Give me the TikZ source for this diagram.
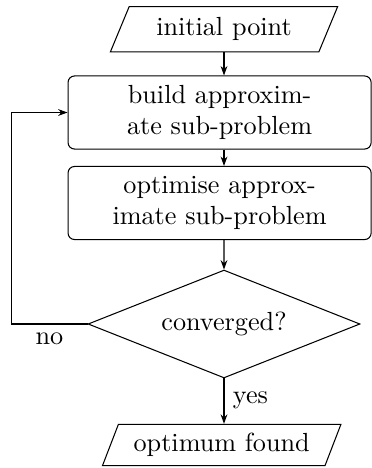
\documentclass[tikz,border=0pt]{standalone}
\usetikzlibrary{shapes.geometric,arrows.meta}
\begin{document}
\begin{tikzpicture}[x=0.3817pt,y=-0.3817pt,
  io/.style={draw, trapezium, trapezium left angle=60, trapezium right angle=120, trapezium stretches=true, inner sep=0pt},
  proc/.style={draw, rounded corners=2.5pt, align=center, minimum width=115.7pt, minimum height=27.9pt, inner sep=0pt},
  dec/.style={draw, diamond, shape aspect=2.52, inner sep=0pt, minimum width=103.8pt, minimum height=41.2pt},
  arr/.style={-{Stealth[length=3.6pt,width=2.6pt]}},
  lbl/.style={inner sep=0pt},
  line width=0.4pt]
\useasboundingbox (0,0) rectangle (372,468);
\node[io, minimum width=87pt, minimum height=17.3pt] (start) at (224,29.3) {initial point};
\node[proc] (build) at (219.6,112.5) {build approxim-\\ate sub-problem};
\node[proc] (opt) at (219.6,203) {optimise approx-\\imate sub-problem};
\node[dec] (conv) at (224,324) {converged?};
\node[io, minimum width=91.6pt, minimum height=15.8pt] (end) at (221.7,445) {optimum found};
\coordinate (loopx) at (11.7,0);
\draw[arr] (start.south) -- (start.south |- build.north);
\draw[arr] (start.south |- build.south) -- (start.south |- opt.north);
\draw[arr] (start.south |- opt.south) -- (conv.north);
\draw[arr] (conv.south) -- (conv.south |- end.north);
\draw[arr] (conv.west) -- (conv.west -| loopx) |- (build.west);
\node[lbl] (no) at (49.4,339) {no};
\node[lbl] (yes) at (250.5,400) {yes};
\end{tikzpicture}
\end{document}
